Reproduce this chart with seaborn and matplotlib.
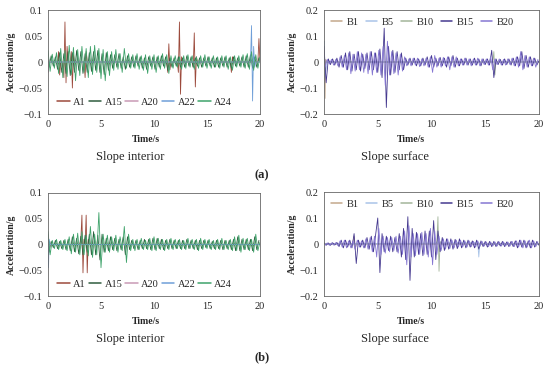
import numpy as np
import pandas as pd
import matplotlib
matplotlib.use("Agg")
import matplotlib.pyplot as plt
import seaborn as sns

# ---- data (acceleration in g, time in s) ----
x_ticks = [0, 5, 10, 15, 20]
x_labels = ["0", "5", "10", "15", "20"]
yint_ticks = [-0.1, -0.05, 0, 0.05, 0.1]
yint_labels = ["\u22120.1", "\u22120.05", "0", "0.05", "0.1"]
ysur_ticks = [-0.2, -0.1, 0, 0.1, 0.2]
ysur_labels = ["\u22120.2", "\u22120.1", "0", "0.1", "0.2"]

int_names = ["A1", "A15", "A20", "A22", "A24"]
sur_names = ["B1", "B5", "B10", "B15", "B20"]
int_colors = ["#9c4a3c", "#2f5d3f", "#c99ab5", "#6f9fd8", "#3fa36b"]
sur_colors = ["#c4a88c", "#a9c4e8", "#a3b59a", "#45398f", "#8576d2"]

# sampling grids of the dense records
t_main = np.round(np.arange(0, 20.001, 0.2), 2)      # 101 samples
t_half = np.round(np.arange(0.1, 20.0, 0.2), 2)      # 100 samples

# (a) slope interior
a_A24 = [0.022, -0.018, 0.015, -0.012, 0.018, -0.022, 0.026, -0.03, 0.022, -0.028,
         0.032, -0.024, 0.028, -0.036, 0.024, -0.026, 0.03, -0.02, 0.026, -0.03,
         0.03, -0.024, 0.032, -0.02, 0.026, -0.032, 0.024, -0.036, 0.02, -0.026,
         0.02, -0.016, 0.024, -0.014, 0.016, -0.02, 0.026, -0.012, 0.016, -0.012,
         0.014, -0.012, 0.016, -0.014, 0.012, -0.016, 0.014, -0.022, 0.012, -0.014,
         0.014, -0.02, 0.012, -0.014, 0.016, -0.012, 0.014, -0.022, 0.012, -0.012,
         0.012, -0.01, 0.01, -0.014, 0.012, -0.012, 0.014, -0.01, 0.012, -0.014,
         0.01, -0.012, 0.012, -0.01, 0.014, -0.012, 0.01, -0.012, 0.012, -0.01,
         0.01, -0.012, 0.012, -0.01, 0.012, -0.014, 0.01, -0.016, 0.012, -0.01,
         0.012, -0.01, 0.014, -0.012, 0.016, -0.014, 0.02, -0.016, 0.014, -0.012, 0.01]
a_A15 = [-0.01, 0.012, -0.008, 0.01, -0.014, 0.018, -0.02, 0.016, -0.022, 0.02,
         -0.026, 0.018, -0.02, 0.022, -0.016, 0.02, -0.022, 0.016, -0.02, 0.018,
         -0.018, 0.02, -0.016, 0.022, -0.02, 0.016, -0.024, 0.018, -0.016, 0.014,
         -0.012, 0.014, -0.01, 0.016, -0.012, 0.01, -0.014, 0.012, -0.01, 0.01,
         -0.01, 0.012, -0.008, 0.01, -0.012, 0.008, -0.014, 0.01, -0.008, 0.01,
         -0.014, 0.01, -0.01, 0.012, -0.008, 0.01, -0.016, 0.008, -0.01, 0.008,
         -0.008, 0.01, -0.01, 0.008, -0.01, 0.012, -0.008, 0.01, -0.01, 0.008,
         -0.008, 0.008, -0.01, 0.008, -0.008, 0.01, -0.008, 0.008, -0.01, 0.008,
         -0.01, 0.008, -0.008, 0.01, -0.01, 0.008, -0.012, 0.01, -0.008, 0.008,
         -0.008, 0.01, -0.01, 0.012, -0.01, 0.014, -0.012, 0.01, -0.01, 0.008]
a_A1_t = [0, 0.9, 1.0, 1.1, 1.2, 1.4, 1.5, 1.6, 1.7, 1.8, 1.9, 2.1, 2.2, 2.3, 2.4,
          2.5, 3.4, 3.5, 3.6, 3.7, 11.2, 11.3, 11.4, 11.5, 11.6, 12.2, 12.3, 12.4,
          12.5, 12.6, 12.7, 13.6, 13.7, 13.8, 13.9, 14.0, 14.1, 17.2, 17.3, 17.4,
          17.5, 19.8, 19.9, 20.0]
a_A1 = [0, 0, 0.02, -0.025, 0, 0, -0.03, 0.077, -0.04, 0.03, 0, 0, 0.02, -0.05,
        0.015, 0, 0, -0.03, 0.02, 0, 0, -0.02, 0.035, -0.015, 0, 0, -0.02, 0.077,
        -0.062, 0.01, 0, 0, -0.01, 0.056, -0.048, 0.01, 0, 0, -0.02, 0.01, 0, 0,
        0.045, 0]
a_A20_t = [0, 0.05, 0.1, 0.2, 20]
a_A20 = [0, -0.02, 0.005, 0, 0]
a_A22_t = [0, 19.1, 19.2, 19.3, 19.4, 19.5, 19.6, 20]
a_A22 = [0, 0, 0.07, -0.075, 0.03, -0.01, 0, 0]

# (a) slope surface
a_B15 = [0.06, -0.08, 0.012, -0.01, 0.012, -0.012, 0.015, -0.02, 0.025, -0.02,
         0.035, -0.03, 0.04, -0.035, 0.03, -0.03, 0.04, -0.035, 0.03, -0.025,
         0.035, -0.03, 0.04, -0.03, 0.035, -0.04, 0.05, -0.06, 0.13, -0.175,
         0.06, -0.05, 0.045, -0.04, 0.04, -0.03, 0.035, -0.03, 0.015, -0.012,
         0.015, -0.012, 0.015, -0.015, 0.012, -0.015, 0.015, -0.012, 0.02, -0.02,
         0.025, -0.02, 0.015, -0.015, 0.018, -0.015, 0.015, -0.02, 0.02, -0.015,
         0.025, -0.02, 0.015, -0.015, 0.012, -0.012, 0.015, -0.012, 0.012, -0.012,
         0.015, -0.012, 0.012, -0.015, 0.012, -0.01, 0.012, -0.012, 0.045, -0.06,
         0.012, -0.01, 0.01, -0.012, 0.012, -0.01, 0.012, -0.012, 0.015, -0.015,
         0.02, -0.015, 0.04, -0.025, 0.025, -0.02, 0.02, -0.015, 0.015, -0.012, 0.005]
a_B20 = [-0.02, 0.01, -0.008, 0.01, -0.012, 0.01, -0.015, 0.02, -0.02, 0.025,
         -0.03, 0.035, -0.045, 0.03, -0.035, 0.04, -0.03, 0.035, -0.04, 0.03,
         -0.045, 0.04, -0.05, 0.035, -0.04, 0.045, -0.05, 0.06, -0.09, 0.08,
         -0.05, 0.04, -0.045, 0.035, -0.05, 0.03, -0.035, 0.02, -0.015, 0.012,
         -0.015, 0.015, -0.012, 0.015, -0.018, 0.012, -0.015, 0.015, -0.02, 0.02,
         -0.04, 0.025, -0.02, 0.015, -0.02, 0.018, -0.015, 0.02, -0.03, 0.02,
         -0.02, 0.02, -0.015, 0.012, -0.012, 0.015, -0.012, 0.012, -0.015, 0.012,
         -0.012, 0.015, -0.015, 0.012, -0.01, 0.012, -0.012, 0.02, -0.03, 0.012,
         -0.01, 0.012, -0.012, 0.01, -0.012, 0.012, -0.01, 0.015, -0.015, 0.02,
         -0.02, 0.04, -0.03, 0.025, -0.02, 0.02, -0.015, 0.015, -0.02, 0.01]
a_B1_t = [0, 0.05, 0.1, 0.15, 0.3, 20]
a_B1 = [0, 0.02, -0.14, 0.01, 0, 0]
a_B5_t = [0, 0.04, 0.08, 0.3, 20]
a_B5 = [0, 0.08, -0.06, 0, 0]
a_B10_t = [0, 15.7, 15.8, 15.9, 16.0, 16.1, 20]
a_B10 = [0, 0, 0.04, -0.05, 0.01, 0, 0]

# (b) slope interior
b_A24 = [0.025, -0.02, 0.008, -0.008, 0.01, -0.01, 0.008, -0.01, 0.01, -0.012,
         0.015, -0.018, 0.02, -0.015, 0.022, -0.02, 0.025, -0.02, 0.018, -0.022,
         0.035, -0.025, 0.02, -0.02, 0.062, -0.045, 0.02, -0.015, 0.018, -0.015,
         0.015, -0.012, 0.018, -0.015, 0.015, -0.012, 0.035, -0.035, 0.02, -0.012,
         0.01, -0.012, 0.01, -0.01, 0.012, -0.01, 0.008, -0.01, 0.012, -0.012,
         0.015, -0.012, 0.012, -0.01, 0.01, -0.012, 0.01, -0.01, 0.012, -0.01,
         0.01, -0.008, 0.01, -0.01, 0.008, -0.01, 0.012, -0.008, 0.01, -0.01,
         0.01, -0.012, 0.012, -0.01, 0.01, -0.008, 0.01, -0.01, 0.008, -0.01,
         0.01, -0.01, 0.012, -0.01, 0.008, -0.01, 0.01, -0.012, 0.015, -0.012,
         0.018, -0.015, 0.012, -0.01, 0.012, -0.012, 0.01, -0.015, 0.02, -0.012, 0.005]
b_A15 = [-0.015, 0.006, -0.006, 0.008, -0.008, 0.006, -0.008, 0.008, -0.01, 0.01,
         -0.012, 0.015, -0.014, 0.012, -0.018, 0.016, -0.02, 0.018, -0.015, 0.02,
         -0.02, 0.025, -0.02, 0.018, -0.03, 0.02, -0.015, 0.012, -0.012, 0.015,
         -0.01, 0.012, -0.012, 0.01, -0.01, 0.015, -0.02, 0.015, -0.01, 0.008,
         -0.008, 0.008, -0.01, 0.008, -0.008, 0.01, -0.008, 0.01, -0.01, 0.012,
         -0.01, 0.012, -0.008, 0.01, -0.01, 0.008, -0.008, 0.01, -0.008, 0.008,
         -0.008, 0.008, -0.008, 0.008, -0.008, 0.01, -0.008, 0.008, -0.008, 0.008,
         -0.01, 0.008, -0.008, 0.008, -0.006, 0.008, -0.008, 0.006, -0.008, 0.008,
         -0.008, 0.008, -0.01, 0.008, -0.008, 0.008, -0.01, 0.01, -0.012, 0.015,
         -0.012, 0.01, -0.01, 0.01, -0.01, 0.01, -0.012, 0.015, -0.01, 0.008]
b_A1_t = [0, 3.0, 3.1, 3.2, 3.3, 3.4, 3.5, 3.6, 3.7, 3.8, 3.9, 20]
b_A1 = [0, 0, 0.01, 0.057, -0.055, 0.01, 0, 0.057, -0.055, 0.01, 0, 0]
b_A20_t = [0, 0.05, 0.1, 0.2, 20]
b_A20 = [0, 0.02, -0.01, 0, 0]
b_A22_t = [0, 0.05, 0.1, 0.2, 20]
b_A22 = [0, -0.045, 0.01, 0, 0]

# (b) slope surface
b_B15 = [0.005, -0.005, 0.004, -0.005, 0.005, -0.004, 0.006, -0.01, 0.015, -0.015,
         0.015, -0.012, 0.015, -0.015, 0.04, -0.075, 0.015, -0.012, 0.015, -0.015,
         0.025, -0.02, 0.03, -0.03, 0.035, 0.1, -0.11, 0.04, -0.03, 0.03,
         -0.025, 0.03, -0.03, 0.025, -0.03, 0.04, -0.05, 0.06, -0.06, 0.105,
         -0.14, 0.06, -0.05, 0.045, -0.04, 0.04, -0.045, 0.05, -0.04, 0.05,
         -0.05, 0.09, -0.06, 0.05, -0.03, 0.025, -0.025, 0.02, -0.02, 0.02,
         -0.02, 0.018, -0.018, 0.02, -0.015, 0.015, -0.015, 0.015, -0.012, 0.012,
         -0.015, 0.015, -0.02, 0.012, -0.01, 0.01, -0.012, 0.01, -0.01, 0.01,
         -0.01, 0.01, -0.008, 0.01, -0.01, 0.008, -0.01, 0.01, -0.01, 0.012,
         -0.015, 0.015, -0.012, 0.015, -0.015, 0.012, -0.015, 0.015, -0.012, 0.01, -0.005]
b_B20 = [-0.004, 0.004, -0.005, 0.004, -0.004, 0.005, -0.006, 0.012, -0.012, 0.015,
         -0.015, 0.012, -0.015, 0.012, -0.02, 0.015, -0.012, 0.012, -0.015, 0.02,
         -0.02, 0.025, -0.03, 0.03, -0.05, 0.06, -0.04, 0.03, -0.035, 0.025,
         -0.03, 0.025, -0.025, 0.03, -0.035, 0.03, -0.04, 0.05, -0.08, 0.07,
         -0.05, 0.04, -0.045, 0.04, -0.04, 0.045, -0.04, 0.04, -0.05, 0.06,
         -0.08, 0.05, -0.04, 0.03, -0.025, 0.02, -0.02, 0.02, -0.018, 0.015,
         -0.015, 0.015, -0.012, 0.015, -0.012, 0.012, -0.012, 0.012, -0.01, 0.01,
         -0.012, 0.012, -0.01, 0.01, -0.008, 0.008, -0.01, 0.008, -0.008, 0.008,
         -0.008, 0.008, -0.008, 0.008, -0.008, 0.008, -0.008, 0.01, -0.01, 0.012,
         -0.012, 0.015, -0.015, 0.012, -0.012, 0.015, -0.015, 0.012, -0.01, 0.008]
b_B1_t = [0, 2.6, 2.7, 2.8, 2.9, 3.0, 20]
b_B1 = [0, 0, 0.01, 0.03, -0.02, 0, 0]
b_B5_t = [0, 14.3, 14.4, 14.5, 14.6, 20]
b_B5 = [0, 0.005, -0.05, 0.005, 0, 0]
b_B10_t = [0, 10.4, 10.5, 10.6, 10.7, 10.8, 10.9, 20]
b_B10 = [0, 0, 0.01, 0.105, -0.105, 0.01, 0, 0]


def long_frame(series):
    parts = []
    for name, (t, v) in series.items():
        parts.append(pd.DataFrame({"t": t, "v": v, "name": name}))
    return pd.concat(parts, ignore_index=True)


panels = {
    "a_int": long_frame({"A1": (a_A1_t, a_A1), "A15": (t_half, a_A15),
                         "A20": (a_A20_t, a_A20), "A22": (a_A22_t, a_A22),
                         "A24": (t_main, a_A24)}),
    "a_sur": long_frame({"B1": (a_B1_t, a_B1), "B5": (a_B5_t, a_B5),
                         "B10": (a_B10_t, a_B10), "B15": (t_main, a_B15),
                         "B20": (t_half, a_B20)}),
    "b_int": long_frame({"A1": (b_A1_t, b_A1), "A15": (t_half, b_A15),
                         "A20": (b_A20_t, b_A20), "A22": (b_A22_t, b_A22),
                         "A24": (t_main, b_A24)}),
    "b_sur": long_frame({"B1": (b_B1_t, b_B1), "B5": (b_B5_t, b_B5),
                         "B10": (b_B10_t, b_B10), "B15": (t_main, b_B15),
                         "B20": (t_half, b_B20)}),
}

sns.set_style("white")
plt.rcParams["font.family"] = ["Liberation Serif", "DejaVu Serif"]

fig = plt.figure(figsize=(5.5, 3.68), dpi=100)
W, H = 550, 368


def px_axes(x0, y0, x1, y1):
    return fig.add_axes([x0 / W, 1 - y1 / H, (x1 - x0) / W, (y1 - y0) / H])


layout = {
    "a_int": (48, 10, 260, 114),
    "a_sur": (324, 10, 539, 114),
    "b_int": (48, 193, 260, 296),
    "b_sur": (324, 192, 539, 296),
}

for key, box in layout.items():
    ax = px_axes(*box)
    interior = key.endswith("int")
    names = int_names if interior else sur_names
    colors = int_colors if interior else sur_colors
    sns.lineplot(data=panels[key], x="t", y="v", hue="name", hue_order=names,
                 palette=dict(zip(names, colors)), estimator=None, sort=False,
                 linewidth=0.6, ax=ax)
    ax.set_xlim(0, 20)
    ax.set_xticks(x_ticks)
    ax.set_xticklabels(x_labels)
    if interior:
        ax.set_ylim(-0.1, 0.1)
        ax.set_yticks(yint_ticks)
        ax.set_yticklabels(yint_labels)
    else:
        ax.set_ylim(-0.2, 0.2)
        ax.set_yticks(ysur_ticks)
        ax.set_yticklabels(ysur_labels)
    ax.tick_params(direction="in", length=2.5, width=0.5, labelsize=7.5,
                   color="#555555", pad=4)
    for s in ax.spines.values():
        s.set_color("#666666")
        s.set_linewidth(0.6)
    ax.set_xlabel("")
    ax.set_ylabel("Acceleration/g", fontsize=7, fontweight="bold", labelpad=2)
    handles, labels = ax.get_legend_handles_labels()
    if interior:
        leg = ax.legend(handles, labels, ncol=5, frameon=False, fontsize=7.5,
                        loc="lower left", bbox_to_anchor=(0.01, 0.0),
                        handlelength=1.2, handletextpad=0.3, columnspacing=0.3,
                        borderaxespad=0.3)
    else:
        leg = ax.legend(handles, labels, ncol=5, frameon=False, fontsize=7.5,
                        loc="upper left", bbox_to_anchor=(0.0, 1.0),
                        handlelength=1.0, handletextpad=0.45, columnspacing=0.75,
                        borderaxespad=0.3)
    for line in leg.get_lines():
        line.set_linewidth(1.1)

for row_y, tag in [(139, "(a)"), (321, "(b)")]:
    fig.text(146 / W, 1 - row_y / H, "Time/s", fontsize=7, fontweight="bold",
             ha="center", va="center")
    fig.text(411 / W, 1 - row_y / H, "Time/s", fontsize=7, fontweight="bold",
             ha="center", va="center")
    fig.text(130 / W, 1 - (row_y + 18) / H, "Slope interior", fontsize=9,
             ha="center", va="center")
    fig.text(395 / W, 1 - (row_y + 18) / H, "Slope surface", fontsize=9,
             ha="center", va="center")
    fig.text(262 / W, 1 - (row_y + 36) / H, tag, fontsize=9, fontweight="bold",
             ha="center", va="center")

fig.savefig("out.png", dpi=100, facecolor="white")
